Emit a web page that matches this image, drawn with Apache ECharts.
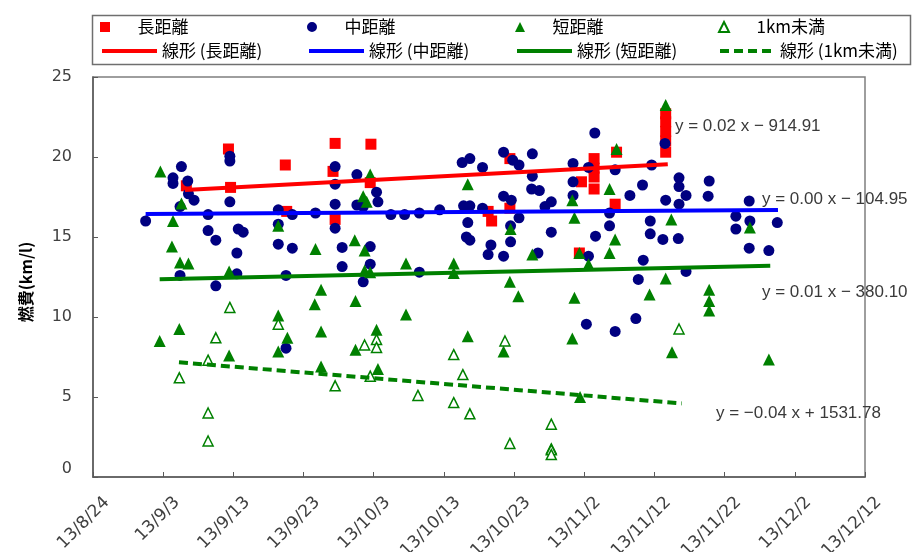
<!DOCTYPE html>
<html>
<head>
<meta charset="utf-8">
<script src="https://cdn.jsdelivr.net/npm/echarts@6/dist/echarts.min.js"></script>
<style>html,body{margin:0;padding:0;background:#fff;}#c{width:918px;height:552px;}</style>
</head>
<body>
<div id="c"></div>
<script>
// x values are Excel serial dates (1 = one day), y values are fuel economy (km/l)
const xTicks = { min: 41510, max: 41620, interval: 10 }; // 13/8/24 .. 13/12/12
const yTicks = { min: 0, max: 25, interval: 5 };

const seriesNames = ['長距離', '中距離', '短距離', '1km未満'];
const trendNames = ['線形 (長距離)', '線形 (中距離)', '線形 (短距離)', '線形 (1km未満)'];

const longData = [[41523.3,18.2],[41529.3,20.5],[41529.6,18.1],[41537.4,19.5],[41537.6,16.6],[41544.5,20.85],[41544.2,19.1],[41544.5,16.1],[41549.6,20.8],[41549.5,18.4],[41566.3,16.6],[41566.8,16.0],[41569.4,19.9],[41569.4,16.8],[41579.3,14.0],[41579.6,18.45],[41581.4,19.9],[41581.4,19.3],[41581.4,18.75],[41581.4,18.0],[41584.4,17.05],[41584.6,20.3],[41591.6,22.7],[41591.6,22.2],[41591.6,21.6],[41591.6,21.0],[41591.6,20.3]];

const midData = [[41517.5,16.0],[41521.4,18.7],[41521.4,18.35],[41522.6,19.4],[41523.5,18.5],[41523.6,17.7],[41524.4,17.3],[41522.4,16.9],[41522.4,12.6],[41526.4,16.4],[41526.4,15.4],[41527.5,14.8],[41527.5,11.95],[41529.5,20.05],[41529.5,19.75],[41529.5,17.2],[41530.7,15.5],[41531.4,15.3],[41530.5,14.0],[41530.5,12.7],[41536.4,16.7],[41536.4,15.8],[41536.4,14.55],[41538.4,16.4],[41538.4,14.3],[41537.5,12.6],[41537.5,8.05],[41541.7,16.5],[41544.5,19.4],[41544.5,18.3],[41544.5,17.05],[41544.5,15.55],[41545.5,14.35],[41545.5,13.15],[41547.6,18.9],[41547.6,17.0],[41548.5,16.9],[41548.5,12.2],[41549.5,14.4],[41549.5,13.3],[41550.4,17.8],[41550.6,17.2],[41552.45,16.4],[41554.4,16.4],[41556.5,16.5],[41556.5,12.8],[41559.4,16.7],[41562.6,19.65],[41563.7,19.9],[41565.5,19.35],[41562.8,16.95],[41563.7,16.95],[41563.4,15.9],[41563.2,15.0],[41563.7,14.8],[41565.5,16.8],[41566.7,14.5],[41566.3,13.9],[41568.5,13.8],[41568.5,20.3],[41569.8,19.8],[41570.7,19.5],[41568.5,17.55],[41569.6,17.3],[41570.7,16.2],[41569.5,15.7],[41569.5,14.7],[41573.4,14.0],[41572.6,20.2],[41572.6,18.8],[41572.5,18.0],[41573.6,17.9],[41574.4,16.9],[41575.3,17.2],[41575.3,15.3],[41578.4,19.6],[41578.4,18.45],[41578.4,17.6],[41580.6,19.35],[41581.5,21.5],[41581.6,15.05],[41580.6,13.8],[41580.3,9.55],[41584.4,19.2],[41583.6,16.5],[41583.6,15.7],[41584.4,9.1],[41586.5,17.6],[41588.3,18.25],[41588.4,13.55],[41587.7,12.35],[41587.35,9.9],[41589.6,19.5],[41589.4,16.0],[41589.4,15.2],[41591.5,20.85],[41591.6,17.3],[41591.2,14.85],[41593.4,14.9],[41593.5,18.7],[41593.5,18.15],[41594.5,17.6],[41593.5,17.05],[41594.5,12.85],[41597.8,18.5],[41597.65,17.55],[41603.5,17.25],[41601.6,16.3],[41603.6,16.0],[41601.6,15.5],[41603.5,14.3],[41606.3,14.15],[41607.5,15.9]];

const shortData = [[41519.6,19.1],[41522.6,17.1],[41521.4,16.0],[41521.25,14.4],[41522.4,13.4],[41523.6,13.35],[41519.5,8.5],[41522.3,9.25],[41529.4,12.85],[41529.4,7.6],[41536.4,15.7],[41536.4,10.1],[41536.4,7.85],[41537.7,8.7],[41541.7,14.25],[41542.5,11.7],[41541.6,10.8],[41542.5,9.1],[41542.5,6.9],[41547.3,14.8],[41547.4,11.0],[41547.4,7.95],[41548.5,17.55],[41549.0,17.2],[41549.5,18.9],[41548.7,14.15],[41548.7,12.9],[41549.5,12.8],[41550.4,9.2],[41550.6,6.75],[41554.6,13.35],[41554.6,10.15],[41561.4,13.35],[41561.4,12.75],[41563.4,18.3],[41563.4,8.8],[41569.4,12.2],[41570.6,11.3],[41569.5,15.5],[41568.5,7.85],[41572.6,13.9],[41578.3,17.3],[41578.6,16.2],[41578.6,11.2],[41578.3,8.65],[41579.3,14.0],[41579.4,5.0],[41580.6,13.3],[41583.6,18.0],[41584.6,20.5],[41584.4,14.85],[41583.6,14.0],[41589.3,11.4],[41591.6,23.25],[41592.4,16.1],[41591.6,12.4],[41592.5,7.8],[41597.8,11.7],[41597.8,11.0],[41597.8,10.4],[41603.6,15.6],[41606.3,7.35],[41575.3,1.8]];

const tinyData = [[41529.5,10.6],[41536.4,9.55],[41527.5,8.7],[41526.4,7.3],[41522.3,6.2],[41526.4,4.0],[41526.4,2.25],[41548.7,8.25],[41550.4,8.6],[41550.4,8.1],[41549.5,6.3],[41544.5,5.7],[41556.3,5.1],[41561.4,7.65],[41561.4,4.65],[41562.7,6.4],[41563.7,3.95],[41568.7,8.5],[41569.4,2.1],[41575.3,3.3],[41575.3,1.7],[41575.3,1.4],[41593.5,9.25]];

// trendline end points
const longTrend = [[41523.1,17.94],[41591.9,19.55]];
const midTrend = [[41517.5,16.43],[41607.6,16.69]];
const shortTrend = [[41519.5,12.36],[41606.5,13.2]];
const tinyTrend = [[41522.25,7.17],[41593.9,4.6]];

const equations = ['y = 0.02 x − 914.91', 'y = 0.00 x − 104.95', 'y = 0.01 x − 380.10', 'y = −0.04 x + 1531.78'];

const EPOCH = Date.UTC(1899, 11, 30);
function fmtDate(serial) {
  const d = new Date(EPOCH + Math.round(serial) * 86400000);
  return (d.getUTCFullYear() % 100) + '/' + (d.getUTCMonth() + 1) + '/' + d.getUTCDate();
}

const RED = '#ff0000', NAVY = '#000080', BLUE = '#0000ff', GREEN = '#008000';
const cjk = '"Noto Sans CJK JP", "Noto Sans", sans-serif';
const eqFont = '17px "Liberation Sans", Arial, sans-serif';

// legend marker shapes (paths keep their aspect inside the legend icon box)
const markerIcons = [
  'path://M0,0H10V10H0Z',
  'path://M5,0A5,5 0 1 1 4.99,0Z',
  'path://M5,0L10,10H0Z',
  'path://M5,0L10,10H0Z'
];
const colLeft = [100, 307, 515, 718];

const legendText = { fontFamily: cjk, fontSize: 17, color: '#000', lineHeight: 20 };
const legends = [];
seriesNames.forEach((n, i) => legends.push({
  left: colLeft[i], top: 17, itemWidth: 55, itemHeight: 10, padding: 0, selectedMode: false,
  textStyle: legendText, data: [{ name: n, icon: markerIcons[i] }]
}));
trendNames.forEach((n, i) => legends.push({
  left: colLeft[i], top: 41, itemWidth: 55, itemHeight: 10, padding: 0, selectedMode: false,
  textStyle: legendText, itemStyle: { opacity: 0 }, lineStyle: { width: 4 }, data: [n]
}));

const chart = echarts.init(document.getElementById('c'), null, { renderer: 'canvas' });

chart.setOption({
  animation: false,
  backgroundColor: '#fff',
  grid: { left: 93, right: 53, top: 77, bottom: 75, outerBoundsMode: 'none', containLabel: false, show: true, borderColor: '#7f7f7f', borderWidth: 1.5, backgroundColor: 'transparent' },
  legend: legends,
  graphic: [
    { type: 'rect', left: 90, top: 13, shape: { width: 818, height: 49 }, style: { fill: 'none', stroke: '#6f6f6f', lineWidth: 1.5 }, silent: true, z: -1 },
    { type: 'text', left: 675, top: 118, style: { text: equations[0], font: eqFont, fill: '#3a3a3a' }, z: 100 },
    { type: 'text', left: 762, top: 191, style: { text: equations[1], font: eqFont, fill: '#3a3a3a' }, z: 100 },
    { type: 'text', left: 762, top: 284, style: { text: equations[2], font: eqFont, fill: '#3a3a3a' }, z: 100 },
    { type: 'text', left: 716, top: 405, style: { text: equations[3], font: eqFont, fill: '#3a3a3a' }, z: 100 }
  ],
  xAxis: {
    type: 'value', min: xTicks.min, max: xTicks.max, interval: xTicks.interval,
    splitLine: { show: false },
    axisLine: { lineStyle: { color: '#595959', width: 1.5 } },
    axisTick: { inside: true, length: 5, lineStyle: { color: '#595959' } },
    axisLabel: { rotate: 45, margin: 9, verticalAlign: 'top', padding: [11, 0, 0, 0], formatter: fmtDate, fontFamily: '"DejaVu Sans", sans-serif', fontSize: 17, color: '#404040', showMinLabel: true, showMaxLabel: true }
  },
  yAxis: {
    type: 'value', min: yTicks.min, max: yTicks.max, interval: yTicks.interval,
    name: '燃費(km/l)', nameLocation: 'middle', nameGap: 59, nameRotate: 90,
    nameTextStyle: { fontFamily: cjk, fontSize: 16, fontWeight: 'bold', color: '#000', padding: [0, 10, 0, 0] },
    splitLine: { show: false },
    axisLine: { show: true, lineStyle: { color: '#595959', width: 1.5 } },
    axisTick: { show: true, inside: true, length: 5, lineStyle: { color: '#595959' } },
    axisLabel: { margin: 21, fontFamily: '"DejaVu Sans", sans-serif', fontSize: 16, color: '#404040', verticalAlignMinLabel: 'bottom' }
  },
  series: [
    { name: seriesNames[0], type: 'scatter', data: longData, symbol: 'rect', symbolSize: 11, itemStyle: { color: RED, opacity: 1 } },
    { name: seriesNames[1], type: 'scatter', data: midData, symbol: 'circle', symbolSize: 11, itemStyle: { color: NAVY, opacity: 1 } },
    { name: seriesNames[2], type: 'scatter', data: shortData, symbol: 'triangle', symbolSize: 12, itemStyle: { color: GREEN, opacity: 1 } },
    { name: seriesNames[3], type: 'scatter', data: tinyData, symbol: 'triangle', symbolSize: 10, itemStyle: { color: '#fff', borderColor: GREEN, borderWidth: 1.5, opacity: 1 } },
    { name: trendNames[0], type: 'line', data: longTrend, symbol: 'none', lineStyle: { color: RED, width: 4 }, itemStyle: { color: RED }, z: 3 },
    { name: trendNames[1], type: 'line', data: midTrend, symbol: 'none', lineStyle: { color: BLUE, width: 4 }, itemStyle: { color: BLUE }, z: 3 },
    { name: trendNames[2], type: 'line', data: shortTrend, symbol: 'none', lineStyle: { color: GREEN, width: 4 }, itemStyle: { color: GREEN }, z: 3 },
    { name: trendNames[3], type: 'line', data: tinyTrend, symbol: 'none', lineStyle: { color: GREEN, width: 4, type: [9, 5] }, itemStyle: { color: GREEN }, z: 3 }
  ]
});
</script>
</body>
</html>
